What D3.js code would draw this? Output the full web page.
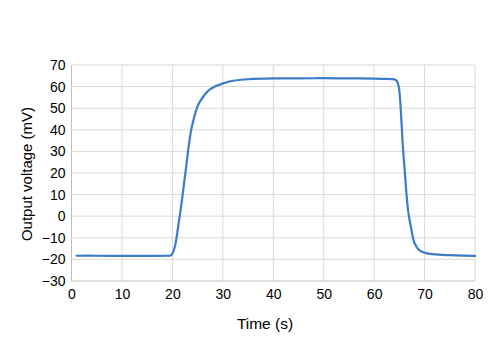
<!DOCTYPE html>
<html><head><meta charset="utf-8">
<script src="https://cdn.jsdelivr.net/npm/d3@7"></script>
<style>body{margin:0;background:#fff}svg{display:block}text{font-family:"Liberation Sans",Arial,sans-serif;fill:#000}</style>
</head><body><svg id="c" width="500" height="349"></svg>
<script>
const timeS = [1, 5, 10, 15, 19, 19.5, 19.84, 20.5, 21.15, 21.82, 22.38, 22.81, 23.27, 23.8, 24.45, 25.1, 26.1, 27.09, 28.42, 30.06, 32.04, 35, 40, 45, 50, 55, 60, 62, 63.5, 64.06, 64.5, 64.8, 65.05, 65.4, 65.7, 66.05, 66.4, 66.8, 67.4, 68, 69, 70.3, 71.6, 73.6, 76, 80];
const voltage = [-18.3, -18.3, -18.4, -18.4, -18.3, -18.3, -17.9, -14.0, -4.75, 6.06, 16.4, 24.2, 33.0, 40.7, 46.9, 51.5, 55.3, 58.0, 60.0, 61.5, 62.7, 63.4, 63.8, 63.8, 63.9, 63.8, 63.7, 63.6, 63.5, 63.3, 62.6, 60.8, 56.9, 44.6, 32.2, 21.5, 10.7, 1.4, -6.3, -12.4, -15.8, -17.1, -17.6, -17.9, -18.1, -18.4];
const xTicks = [0, 10, 20, 30, 40, 50, 60, 70, 80];
const yTicks = [-30, -20, -10, 0, 10, 20, 30, 40, 50, 60, 70];
const xTitle = "Time (s)";
const yTitle = "Output voltage (mV)";

const svg = d3.select("#c");
const m = {l: 71.5, r: 25, t: 65, b: 68};
const W = 500, H = 349;
const x = d3.scaleLinear().domain([0, 80]).range([m.l, W - m.r]);
const y = d3.scaleLinear().domain([-30, 70]).range([H - m.b, m.t]);

const g = svg.append("g");
g.selectAll(".gx").data(xTicks).join("line")
  .attr("x1", d => x(d)).attr("x2", d => x(d)).attr("y1", y(-30)).attr("y2", y(70))
  .attr("stroke", d => d === 0 ? "#bfbfbf" : "#d9d9d9").attr("stroke-width", 1);
g.selectAll(".gy").data(yTicks).join("line")
  .attr("y1", d => y(d)).attr("y2", d => y(d)).attr("x1", x(0)).attr("x2", x(80))
  .attr("stroke", d => d === -30 ? "#bfbfbf" : "#d9d9d9").attr("stroke-width", 1);

const xa = svg.append("g").attr("transform", `translate(0,${y(-30)})`)
  .call(d3.axisBottom(x).tickValues(xTicks).tickSize(0).tickPadding(8));
const ya = svg.append("g").attr("transform", `translate(${x(0)},0)`)
  .call(d3.axisLeft(y).tickValues(yTicks).tickSize(0).tickPadding(6).tickFormat(d3.format("d")));
[xa, ya].forEach(a => {
  a.select(".domain").remove();
  a.selectAll("text").style("font-size", "14px").attr("fill", "#000");
});

const data = timeS.map((t, i) => [t, voltage[i]]);
svg.append("path").datum(data)
  .attr("fill", "none").attr("stroke", "#3b7dc6").attr("stroke-width", 2.2)
  .attr("stroke-linejoin", "round").attr("stroke-linecap", "round")
  .attr("d", d3.line().x(d => x(d[0])).y(d => y(d[1])).curve(d3.curveCatmullRom.alpha(0.5)));

svg.append("text").attr("x", 265).attr("y", 329).attr("text-anchor", "middle")
  .style("font-size", "15.5px").text(xTitle);
svg.append("text").attr("transform", `translate(32,174) rotate(-90)`).attr("text-anchor", "middle")
  .style("font-size", "15px").text(yTitle);
</script></body></html>
